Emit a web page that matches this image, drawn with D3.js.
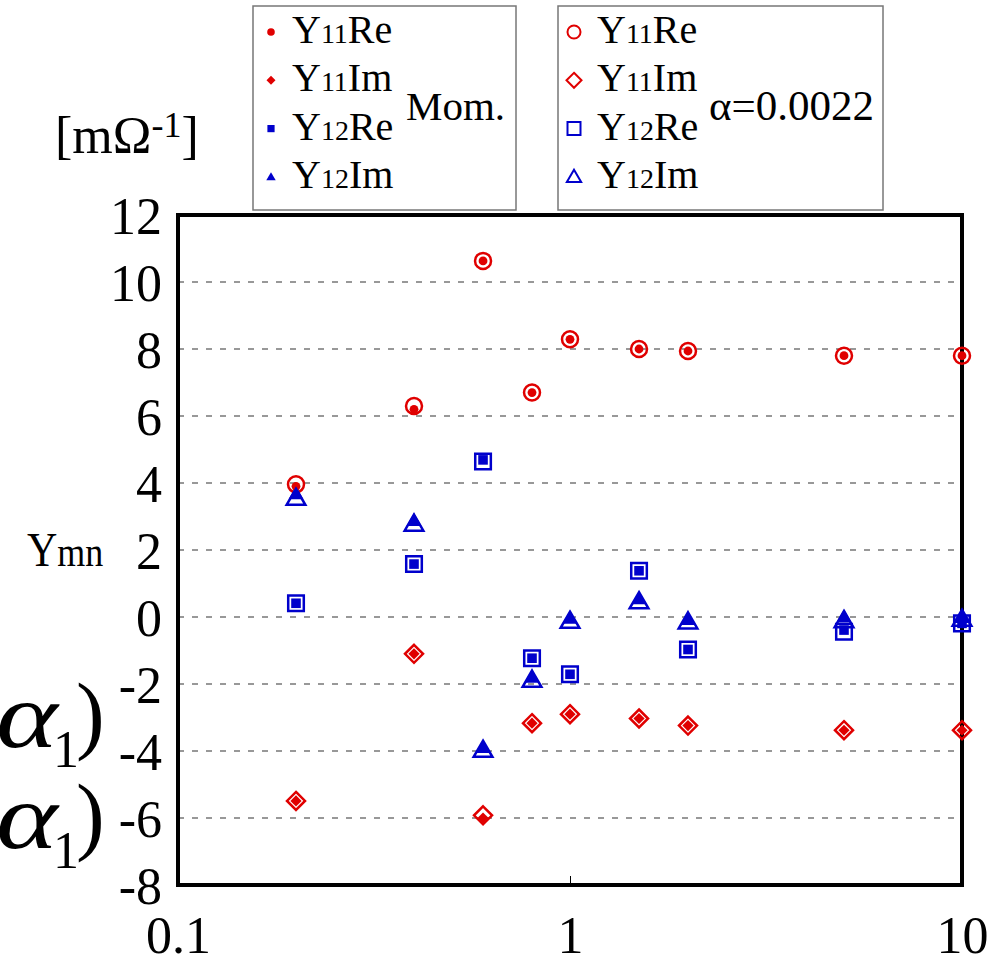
<!DOCTYPE html>
<html>
<head>
<meta charset="utf-8">
<script src="https://cdn.jsdelivr.net/npm/d3@7"></script>
<style>
  body { margin: 0; background: #fff; }
  text { font-family: "Liberation Serif", "Times New Roman", serif; }
</style>
</head>
<body>
<div id="chart"></div>
<script>
// frequency points (log axis)
var freqs = [0.2, 0.4, 0.6, 0.8, 1, 1.5, 2, 5, 10];

// "Mom." series (filled markers)
var momY11Re = [3.9, 6.2, 10.63, 6.7, 8.29, 8.0, 7.94, 7.8, 7.8];
var momY11Im = [-5.49, -1.1, -6.0, -3.17, -2.9, -3.03, -3.24, -3.38, -3.38];
var momY12Re = [0.41, 1.58, 4.69, -1.23, -1.71, 1.38, -0.97, -0.39, -0.19];
var momY12Im = [3.68, 2.88, -3.9, -1.8, -0.04, 0.54, -0.08, 0.0, -0.02];

// "α=0.0022" series (open markers)
var alphaY11Re = [3.96, 6.3, 10.63, 6.7, 8.29, 8.0, 7.94, 7.8, 7.8];
var alphaY11Im = [-5.49, -1.1, -5.92, -3.17, -2.9, -3.03, -3.24, -3.38, -3.38];
var alphaY12Re = [0.41, 1.58, 4.64, -1.23, -1.71, 1.38, -0.97, -0.44, -0.19];
var alphaY12Im = [3.55, 2.78, -3.97, -1.88, -0.12, 0.46, -0.14, -0.1, -0.06];

var yTicks = [12, 10, 8, 6, 4, 2, 0, -2, -4, -6, -8];
var xTicks = [0.1, 1, 10];

var red = "#e00000";
var blue = "#0000cc";

var width = 1008, height = 961;
var plotL = 178, plotR = 962, plotT = 215, plotB = 885;

var svg = d3.select("#chart")
    .append("svg")
    .attr("width", width)
    .attr("height", height);

var x = d3.scaleLog().domain([0.1, 10]).range([plotL, plotR]);
var y = d3.scaleLinear().domain([-8, 12]).range([plotB, plotT]);

// marker outlines centred on 0,0
function markerPath(shape, r) {
    if (shape === "circle") {
        return "M" + (-r) + ",0A" + r + "," + r + " 0 1,0 " + r + ",0A" + r + "," + r + " 0 1,0 " + (-r) + ",0Z";
    }
    if (shape === "square") {
        return "M" + (-r) + "," + (-r) + "H" + r + "V" + r + "H" + (-r) + "Z";
    }
    if (shape === "diamond") {
        return "M0," + (-r) + "L" + r + ",0L0," + r + "L" + (-r) + ",0Z";
    }
    // triangle
    var h = r * 1.9;
    return "M0," + (-h * 0.58) + "L" + (r * 1.1) + "," + (h * 0.42) + "L" + (-r * 1.1) + "," + (h * 0.42) + "Z";
}

// grid lines
svg.append("g")
    .selectAll("line")
    .data(yTicks.filter(function(d) { return d !== 12 && d !== -8; }))
    .enter()
    .append("line")
    .attr("x1", plotL)
    .attr("x2", plotR)
    .attr("y1", function(d) { return y(d); })
    .attr("y2", function(d) { return y(d); })
    .attr("stroke", "#777")
    .attr("stroke-width", 1.5)
    .attr("stroke-dasharray", "6,8");

// x axis: ticks pointing inward
var xAxis = svg.append("g")
    .attr("transform", "translate(0," + plotB + ")")
    .call(d3.axisBottom(x).tickValues(xTicks).tickSizeInner(-9).tickSizeOuter(0)
        .tickFormat(function(d) { return d3.format("~g")(d); }));
xAxis.select(".domain").remove();
xAxis.selectAll("line").attr("stroke", "#000").attr("stroke-width", 1);
xAxis.selectAll("text")
    .attr("y", 68)
    .attr("dy", 0)
    .attr("font-size", 52)
    .attr("fill", "#000")
    .style("font-family", "Liberation Serif");

// y axis labels
var yAxis = svg.append("g")
    .attr("transform", "translate(" + plotL + ",0)")
    .call(d3.axisLeft(y).tickValues(yTicks).tickSize(0).tickPadding(16)
        .tickFormat(function(d) { return d < 0 ? "-" + Math.abs(d) : d; }));
yAxis.select(".domain").remove();
yAxis.selectAll("text")
    .attr("dy", 18)
    .attr("font-size", 52)
    .attr("fill", "#000")
    .style("font-family", "Liberation Serif");

// plot frame
svg.append("rect")
    .attr("x", plotL)
    .attr("y", plotT)
    .attr("width", plotR - plotL)
    .attr("height", plotB - plotT)
    .attr("fill", "none")
    .attr("stroke", "#000")
    .attr("stroke-width", 4);

var openSeries = [
    { values: alphaY11Re, shape: "circle", color: red, r: 8 },
    { values: alphaY11Im, shape: "diamond", color: red, r: 9 },
    { values: alphaY12Re, shape: "square", color: blue, r: 7.8 },
    { values: alphaY12Im, shape: "triangle", color: blue, r: 8.5 }
];
var filledSeries = [
    { values: momY11Re, shape: "circle", color: red, r: 4.4 },
    { values: momY11Im, shape: "diamond", color: red, r: 5.6 },
    { values: momY12Re, shape: "square", color: blue, r: 4.8 },
    { values: momY12Im, shape: "triangle", color: blue, r: 6.8 }
];

openSeries.forEach(function(s) {
    svg.append("g")
        .selectAll("path")
        .data(s.values)
        .enter()
        .append("path")
        .attr("transform", function(d, i) { return "translate(" + x(freqs[i]) + "," + y(d) + ")"; })
        .attr("d", markerPath(s.shape, s.r))
        .attr("fill", "none")
        .attr("stroke", s.color)
        .attr("stroke-width", 2.5);
});

filledSeries.forEach(function(s) {
    svg.append("g")
        .selectAll("path")
        .data(s.values)
        .enter()
        .append("path")
        .attr("transform", function(d, i) { return "translate(" + x(freqs[i]) + "," + y(d) + ")"; })
        .attr("d", markerPath(s.shape, s.r))
        .attr("fill", s.color);
});

// legends
function drawLegend(bx, bw, markers, open, note, noteX, noteSize) {
    var g = svg.append("g");
    g.append("rect")
        .attr("x", bx)
        .attr("y", 6)
        .attr("width", bw)
        .attr("height", 204)
        .attr("fill", "#fff")
        .attr("stroke", "#777")
        .attr("stroke-width", 1.5);
    var names = [["Y", "11", "Re"], ["Y", "11", "Im"], ["Y", "12", "Re"], ["Y", "12", "Im"]];
    names.forEach(function(n, i) {
        var base = 43 + i * 48.3;
        var m = markers[i];
        g.append("path")
            .attr("transform", "translate(" + (bx + (open ? 16 : 18)) + "," + (base - 11) + ")")
            .attr("d", markerPath(m.shape, m.r))
            .attr("fill", open ? "none" : m.color)
            .attr("stroke", open ? m.color : "none")
            .attr("stroke-width", 2);
        var t = g.append("text")
            .attr("x", bx + 39)
            .attr("y", base)
            .attr("font-size", 40)
            .attr("fill", "#000");
        t.append("tspan").text(n[0]);
        t.append("tspan").attr("font-size", 28).text(n[1]);
        t.append("tspan").text(n[2]);
    });
    g.append("text")
        .attr("x", noteX)
        .attr("y", 120)
        .attr("font-size", noteSize)
        .attr("fill", "#000")
        .text(note);
}

drawLegend(253, 263, [
    { shape: "circle", r: 3.8, color: red },
    { shape: "diamond", r: 4.5, color: red },
    { shape: "square", r: 3.6, color: blue },
    { shape: "triangle", r: 4.3, color: blue }
], false, "Mom.", 406, 41);

drawLegend(558, 325, [
    { shape: "circle", r: 6.5, color: red },
    { shape: "diamond", r: 7.5, color: red },
    { shape: "square", r: 6.5, color: blue },
    { shape: "triangle", r: 6.5, color: blue }
], true, "α=0.0022", 709, 43);

// unit label
var unit = svg.append("text")
    .attr("x", 55)
    .attr("y", 153)
    .attr("font-size", 52)
    .attr("fill", "#000");
unit.append("tspan").text("[mΩ");
unit.append("tspan").attr("font-size", 36).attr("dy", -16).text("-1");
unit.append("tspan").attr("dy", 16).text("]");

// axis name
var yName = svg.append("text")
    .attr("transform", "translate(27,566) scale(1,1.15)")
    .attr("font-size", 42)
    .attr("fill", "#000");
yName.append("tspan").text("Y");
yName.append("tspan").attr("font-size", 36).text("mn");

// clipped formula fragments at the left edge
[747, 848].forEach(function(b) {
    svg.append("text")
        .attr("transform", "translate(-4," + b + ") scale(1.25,1)")
        .attr("font-size", 94)
        .attr("font-style", "italic")
        .attr("fill", "#000")
        .text("α");
    svg.append("text")
        .attr("x", 53)
        .attr("y", b + 20)
        .attr("font-size", 52)
        .attr("fill", "#000")
        .text("1");
    svg.append("text")
        .attr("x", 76)
        .attr("y", b - 4)
        .attr("font-size", 86)
        .attr("fill", "#000")
        .text(")");
});
</script>
</body>
</html>
